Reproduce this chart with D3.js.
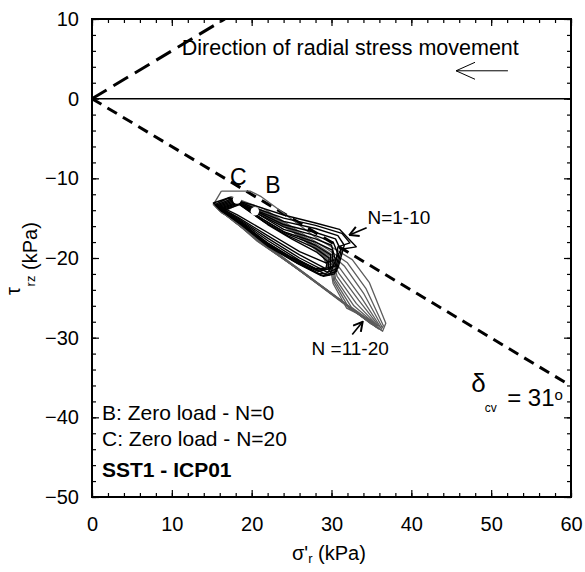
<!DOCTYPE html>
<html>
<head>
<meta charset="utf-8">
<script src="https://cdn.jsdelivr.net/npm/d3@7"></script>
<style>
body { margin: 0; background: #fff; }
text { font-family: "Liberation Sans", Arial, sans-serif; fill: #000; }
</style>
</head>
<body>
<script>
// axis ticks
var xMajor = [0, 10, 20, 30, 40, 50, 60];
var yMajor = [-50, -40, -30, -20, -10, 0, 10];

// stress path loops, cycles N=1-10 (black)
var loopsBlack = [
  [[17.0,-12.5],[20,-13.3],[24,-14.6],[28,-15.6],[31,-16.4],[33.1,-18.6],[31.2,-18.9],[30.5,-20.2],[29.3,-20.6],[26,-19.2],[22,-16.8],[18.2,-14.6],[15.2,-13.1],[17.0,-12.5]],
  [[17.2,-12.4],[20,-13.6],[24,-15.0],[28,-15.9],[31.3,-16.9],[32.3,-18.1],[30.8,-18.6],[30.5,-21],[29.2,-21.3],[26,-19.6],[22,-17.2],[18.3,-14.9],[15.4,-13.3],[17.2,-12.4]],
  [[17.4,-12.6],[20,-13.8],[24,-15.4],[28,-16.3],[30.8,-17.2],[31.6,-18.4],[30.8,-21.3],[29.5,-21.8],[26,-20.0],[22,-17.5],[18.4,-15.1],[15.5,-13.4],[17.4,-12.6]],
  [[17.6,-12.7],[20.5,-14.1],[24,-15.8],[28,-16.8],[30.5,-17.6],[31.2,-19.1],[30.6,-21.7],[29.3,-22.1],[26,-20.3],[22,-17.8],[18.5,-15.3],[15.6,-13.5],[17.6,-12.7]],
  [[17.8,-12.8],[20.5,-14.3],[24,-16.1],[28,-17.2],[30.2,-18.0],[30.9,-19.7],[30.4,-22.0],[29,-22.3],[25.8,-20.5],[22,-18.1],[18.6,-15.5],[15.7,-13.6],[17.8,-12.8]],
  [[18,-12.9],[21,-14.6],[24,-16.4],[28,-17.6],[30,-18.4],[30.5,-20.3],[29.8,-22.1],[28.7,-22.2],[25.6,-20.6],[22,-18.3],[18.7,-15.7],[15.8,-13.7],[18,-12.9]],
  [[18.2,-13.0],[21,-14.9],[24,-16.7],[28,-18.0],[30.1,-19],[30.2,-21],[29.4,-21.9],[28.4,-22],[25.4,-20.5],[22,-18.5],[18.8,-15.9],[15.9,-13.8],[18.2,-13.0]],
  [[18.3,-13.1],[21.5,-15.2],[24.5,-17.0],[28,-18.4],[29.9,-19.6],[29.9,-21.3],[28.4,-21.7],[25.2,-20.3],[21.8,-18.3],[18.7,-15.8],[16.0,-13.9],[18.3,-13.1]],
  [[18.4,-13.2],[21.5,-15.4],[24.5,-17.2],[28,-18.8],[29.7,-20],[29.6,-21.4],[28.2,-21.5],[25,-20],[21.6,-18],[18.6,-15.6],[16.1,-14],[18.4,-13.2]],
  [[18.5,-13.3],[22,-15.8],[25,-17.6],[28.2,-19.3],[29.5,-20.4],[29.3,-21.3],[28,-21.3],[24.8,-19.8],[21.4,-17.8],[18.5,-15.4],[16.2,-14.1],[18.5,-13.3]]
];

// cycles N=11-20 (grey)
var loopsGrey = [
  [[16.2,-11.6],[19.8,-11.6],[21.2,-12.3],[23.9,-14.3],[28,-17.4],[32.6,-20.2],[34.75,-23.1],[36.8,-28.2],[36.4,-29.2],[32,-26.1],[27.5,-22.7],[22.5,-18.9],[18.2,-15.6],[15.2,-13.3],[16.2,-11.6]],
  [[17.4,-12.3],[21.5,-13.8],[25.5,-16.4],[29.5,-18.9],[32,-20.6],[34.3,-23.8],[36.5,-28.5],[36.2,-29.0],[31.8,-25.8],[27.3,-22.4],[22.3,-18.7],[18.1,-15.6],[15.4,-13.5],[17.4,-12.3]],
  [[17.6,-12.4],[22,-14.3],[26,-16.9],[29.8,-19.4],[31.6,-21.0],[34,-24.4],[36.3,-28.6],[35.9,-28.9],[31.5,-25.6],[27.1,-22.3],[22.1,-18.6],[18,-15.6],[15.5,-13.6],[17.6,-12.4]],
  [[17.8,-12.5],[22.5,-14.7],[26.5,-17.4],[30,-19.9],[31.2,-21.5],[33.7,-24.9],[36.1,-28.6],[35.6,-28.7],[31.2,-25.4],[26.9,-22.2],[21.9,-18.5],[17.9,-15.5],[15.6,-13.7],[17.8,-12.5]],
  [[18,-12.6],[23,-15.1],[27,-17.8],[30.2,-20.3],[30.9,-21.9],[33.4,-25.3],[35.9,-28.5],[35.4,-28.5],[31,-25.2],[26.7,-22.1],[21.7,-18.4],[17.8,-15.4],[15.7,-13.8],[18,-12.6]],
  [[18.2,-12.7],[23.5,-15.5],[27.5,-18.2],[30.3,-20.7],[30.7,-22.3],[33.1,-25.7],[35.7,-28.4],[35.2,-28.4],[30.8,-25.1],[26.5,-21.9],[21.5,-18.3],[17.7,-15.3],[15.8,-13.9],[18.2,-12.7]],
  [[18.4,-12.8],[24,-15.9],[28,-18.6],[30.3,-21.1],[30.5,-22.6],[32.8,-26],[35.5,-28.3],[35,-28.3],[30.6,-24.9],[26.3,-21.8],[21.3,-18.2],[17.6,-15.2],[15.9,-14],[18.4,-12.8]],
  [[18.5,-12.9],[24.5,-16.2],[28.3,-19],[30.2,-21.4],[30.4,-22.8],[32.5,-26.2],[35.3,-28.2],[34.8,-28.1],[30.4,-24.8],[26.1,-21.6],[21.1,-18.1],[17.5,-15.1],[16,-14.1],[18.5,-12.9]],
  [[18.6,-13],[25,-16.6],[28.6,-19.3],[30.1,-21.7],[30.3,-23],[32.2,-26.3],[35.1,-28],[34.6,-27.9],[30.2,-24.6],[25.9,-21.4],[20.9,-18],[17.4,-15],[16.1,-14.2],[18.6,-13]],
  [[18.7,-13.1],[25.5,-16.9],[28.8,-19.6],[30,-22],[30.2,-23.2],[31.9,-26.3],[34.9,-27.8],[34.4,-27.7],[30,-24.4],[25.7,-21.3],[20.7,-17.9],[17.3,-14.9],[16.2,-14.3],[18.7,-13.1]]
];

// zero load points
var zeroPoints = [[18.16,-12.67], [20.4,-14.14]];

// friction lines (delta_cv = 31 deg)
var lineDown = [[0,0],[60,-36.05]];
var lineUp = [[0,0],[16.64,10]];

var margin = { top: 19, right: 14, bottom: 75, left: 92 },
    width = 585 - margin.left - margin.right,
    height = 572 - margin.top - margin.bottom;

var x = d3.scaleLinear().domain([0, 60]).range([0, width]);
var y = d3.scaleLinear().domain([-50, 10]).range([height, 0]);

var svg = d3.select("body").append("svg")
    .attr("width", 585)
    .attr("height", 572);

var defs = svg.append("defs");
defs.append("clipPath").attr("id", "clip")
    .append("rect").attr("width", width).attr("height", height);

defs.append("marker").attr("id", "headThin")
    .attr("markerUnits", "userSpaceOnUse")
    .attr("viewBox", "0 0 20 18").attr("refX", 19).attr("refY", 9)
    .attr("markerWidth", 20).attr("markerHeight", 18).attr("orient", "auto")
    .append("path").attr("d", "M0,0.5 L19,9 L0,17.5").attr("fill", "none").attr("stroke", "#000").attr("stroke-width", 1);

defs.append("marker").attr("id", "headBold")
    .attr("markerUnits", "userSpaceOnUse")
    .attr("viewBox", "0 0 12 12").attr("refX", 11).attr("refY", 6)
    .attr("markerWidth", 12).attr("markerHeight", 12).attr("orient", "auto")
    .append("path").attr("d", "M2,1 L11,6 L2,11").attr("fill", "none").attr("stroke", "#000").attr("stroke-width", 2);

var g = svg.append("g")
    .attr("transform", "translate(" + margin.left + "," + margin.top + ")");

var line = d3.line()
    .x(function (d) { return x(d[0]); })
    .y(function (d) { return y(d[1]); });

// ticks, all inside, on four sides
function minorTicks(axis) { return axis.ticks(30).tickFormat("").tickSizeOuter(0); }

g.append("g").attr("class", "x axis")
    .attr("transform", "translate(0," + height + ")")
    .call(minorTicks(d3.axisBottom(x)).tickSizeInner(-4));
g.append("g").attr("class", "x axis")
    .attr("transform", "translate(0," + height + ")")
    .call(d3.axisBottom(x).tickValues(xMajor).tickSizeInner(-7).tickSizeOuter(0).tickPadding(20));
g.append("g").call(minorTicks(d3.axisTop(x)).tickSizeInner(-4));
g.append("g").call(d3.axisTop(x).tickValues(xMajor).tickSizeInner(-7).tickSizeOuter(0).tickFormat(""));

g.append("g").attr("class", "y axis")
    .call(minorTicks(d3.axisLeft(y)).tickSizeInner(-4));
g.append("g").attr("class", "y axis")
    .call(d3.axisLeft(y).tickValues(yMajor).tickSizeInner(-7).tickSizeOuter(0).tickPadding(13));
g.append("g").attr("transform", "translate(" + width + ",0)")
    .call(minorTicks(d3.axisRight(y)).tickSizeInner(-4));
g.append("g").attr("transform", "translate(" + width + ",0)")
    .call(d3.axisRight(y).tickValues(yMajor).tickSizeInner(-7).tickSizeOuter(0).tickFormat(""));

g.selectAll(".domain").remove();
g.selectAll(".tick line").attr("stroke", "#000").attr("stroke-width", 1.2);
g.selectAll(".tick text")
    .style("font-family", "'Liberation Sans', Arial, sans-serif")
    .style("font-size", "20px");

g.append("rect")
    .attr("width", width).attr("height", height)
    .attr("fill", "none").attr("stroke", "#000").attr("stroke-width", 2);

// zero shear line
g.append("line")
    .attr("x1", x(0)).attr("x2", x(60))
    .attr("y1", y(0)).attr("y2", y(0))
    .attr("stroke", "#000").attr("stroke-width", 1.5);

var clipped = g.append("g").attr("clip-path", "url(#clip)");

clipped.append("path").attr("d", line(lineUp))
    .attr("fill", "none").attr("stroke", "#000")
    .attr("stroke-width", 3).attr("stroke-dasharray", "17,8");

clipped.append("path").attr("d", line(lineDown))
    .attr("fill", "none").attr("stroke", "#000")
    .attr("stroke-width", 3).attr("stroke-dasharray", "11,7");

// loops
clipped.selectAll(".grey").data(loopsGrey).enter().append("path")
    .attr("class", "grey")
    .attr("d", line)
    .attr("fill", "none").attr("stroke", "#5c5c5c")
    .attr("stroke-width", 1.3).attr("stroke-linejoin", "round");

clipped.selectAll(".black").data(loopsBlack).enter().append("path")
    .attr("class", "black")
    .attr("d", line)
    .attr("fill", "none").attr("stroke", "#000")
    .attr("stroke-width", 1.4).attr("stroke-linejoin", "round");

g.selectAll(".dot").data(zeroPoints).enter().append("circle")
    .attr("cx", function (d) { return x(d[0]); })
    .attr("cy", function (d) { return y(d[1]); })
    .attr("r", 4.2).attr("fill", "#fff");

// annotations
function label(tx, ty, str, size, weight) {
    return g.append("text")
        .attr("x", x(tx)).attr("y", y(ty)).attr("dy", "0.36em")
        .style("font-size", size + "px")
        .style("font-weight", weight || "normal")
        .text(str);
}

label(11.25, 6.5, "Direction of radial stress movement", 21.5);
g.append("line")
    .attr("x1", x(52.1)).attr("y1", y(3.5))
    .attr("x2", x(45.6)).attr("y2", y(3.5))
    .attr("stroke", "#000").attr("stroke-width", 1)
    .attr("marker-end", "url(#headThin)");

label(17.3, -9.8, "C", 23);
label(21.7, -10.8, "B", 23);

label(34.5, -14.85, "N=1-10", 19);
g.append("line")
    .attr("x1", x(34.4)).attr("y1", y(-16.2))
    .attr("x2", x(32.25)).attr("y2", y(-17.1))
    .attr("stroke", "#000").attr("stroke-width", 1.6)
    .attr("marker-end", "url(#headBold)");

label(27.5, -31.3, "N =11-20", 19);
g.append("line")
    .attr("x1", x(32.6)).attr("y1", y(-29.6))
    .attr("x2", x(33.9)).attr("y2", y(-28.0))
    .attr("stroke", "#000").attr("stroke-width", 1.6)
    .attr("marker-end", "url(#headBold)");

label(47.5, -35.6, "\u03b4", 26);
label(49.2, -38.8, "cv", 12);
g.append("text")
    .attr("x", x(52)).attr("y", y(-37.55)).attr("dy", "0.36em")
    .style("font-size", "24px")
    .text("= 31")
    .append("tspan").attr("dy", "-0.45em").style("font-size", "15px").text("o");

label(1.25, -39.4, "B: Zero load - N=0", 21);
label(1.25, -42.6, "C: Zero load - N=20", 21);
label(1.25, -46.6, "SST1 - ICP01", 21, "bold");

// axis titles
var xt = svg.append("text")
    .attr("x", 292).attr("y", 560)
    .style("font-size", "20px");
xt.append("tspan").text("\u03c3'");
xt.append("tspan").attr("dy", "3").style("font-size", "13px").text("r");
xt.append("tspan").attr("dy", "-3").text(" (kPa)");

svg.append("text")
    .attr("transform", "translate(14,291) rotate(-90)")
    .attr("text-anchor", "middle").attr("dy", "0.3em")
    .style("font-size", "20px").text("\u03c4");
svg.append("text")
    .attr("transform", "translate(31,281) rotate(-90)")
    .attr("text-anchor", "middle").attr("dy", "0.3em")
    .style("font-size", "13px").text("rz");
svg.append("text")
    .attr("transform", "translate(30,246) rotate(-90)")
    .attr("text-anchor", "middle").attr("dy", "0.35em")
    .style("font-size", "20px").text("(kPa)");
</script>
</body>
</html>
